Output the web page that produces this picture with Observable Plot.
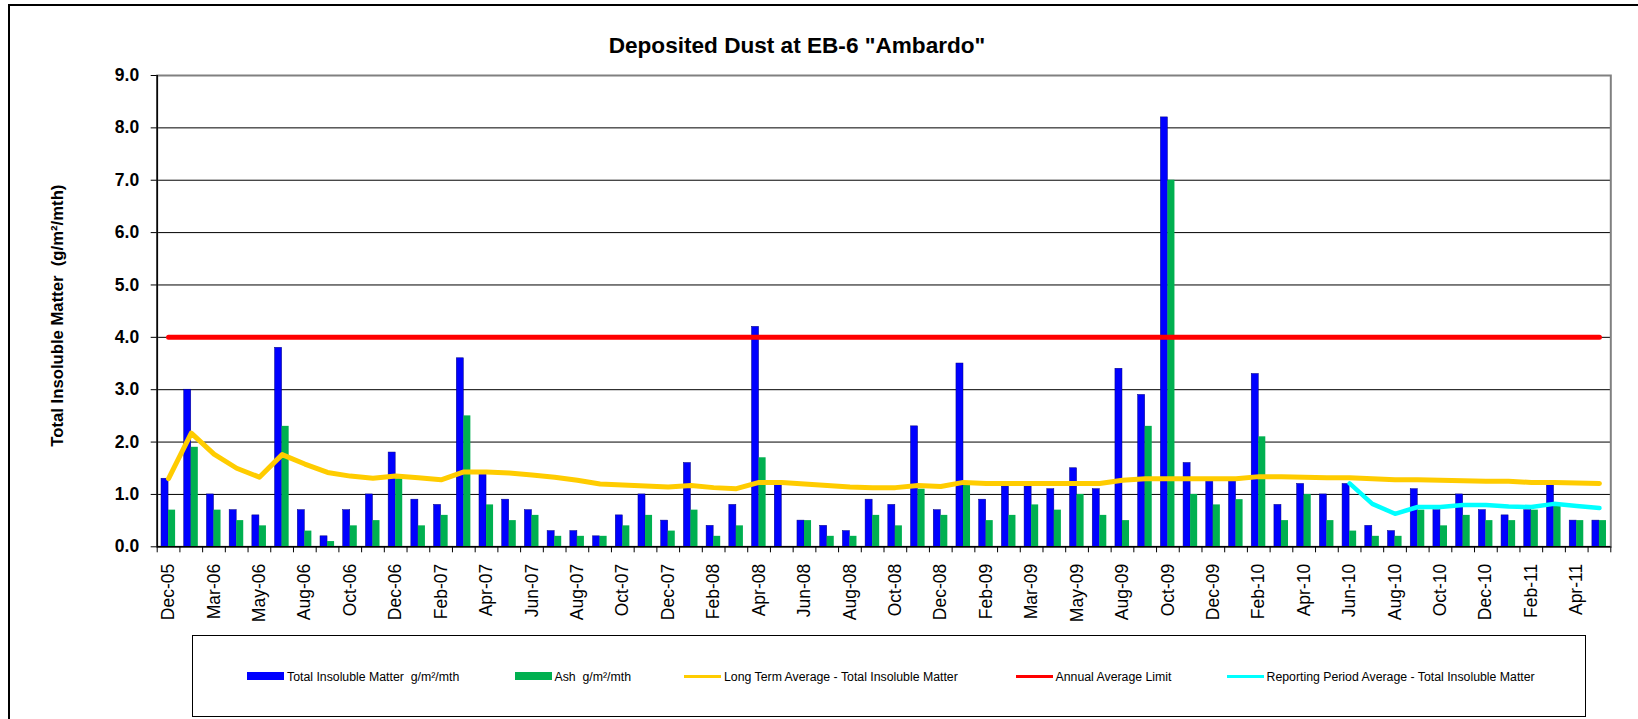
<!DOCTYPE html>
<html>
<head>
<meta charset="utf-8">
<script src="https://cdn.jsdelivr.net/npm/d3@7"></script>
<script src="https://cdn.jsdelivr.net/npm/@observablehq/plot@0.6"></script>
<style>
  html, body { margin: 0; padding: 0; background: #fff; }
  body { width: 1638px; height: 719px; overflow: hidden; font-family: "Liberation Sans", Arial, sans-serif; }
  #wrap { position: relative; width: 1638px; height: 719px; }
  #border { position: absolute; left: 8px; top: 4px; width: 1700px; height: 800px; border-left: 2px solid #000; border-top: 2px solid #000; }
  #title { position: absolute; left: 0; width: 1594px; top: 35px; text-align: center; font-weight: bold; font-size: 22.6px; line-height: 22.6px; color: #000; white-space: pre; }
  #chart { position: absolute; left: 0; top: 0; }
  #legend { position: absolute; left: 192px; top: 635px; width: 1394px; height: 82px; border: 1px solid #000; box-sizing: border-box; }
  .sw { position: absolute; }
  .lt { position: absolute; font-size: 12.3px; white-space: pre; color: #000; line-height: 14px; top: 33.5px; }
</style>
</head>
<body>
<div id="wrap">
  <div id="border"></div>
  <div id="title">Deposited Dust at EB-6 "Ambardo"</div>
  <div id="chart"></div>
  <div id="legend"></div>
</div>
<script>
// Categories (sampling months)
const months = ["Dec-05","Feb-06","Mar-06","Apr-06","May-06","Jul-06","Aug-06","Sep-06","Oct-06","Nov-06",
  "Dec-06","Jan-07","Feb-07","Mar-07","Apr-07","May-07","Jun-07","Jul-07","Aug-07","Sep-07",
  "Oct-07","Nov-07","Dec-07","Jan-08","Feb-08","Mar-08","Apr-08","May-08","Jun-08","Jul-08",
  "Aug-08","Sep-08","Oct-08","Nov-08","Dec-08","Jan-09","Feb-09","Feb-09","Mar-09","Apr-09",
  "May-09","Jul-09","Aug-09","Sep-09","Oct-09","Nov-09","Dec-09","Jan-10","Feb-10","Mar-10",
  "Apr-10","May-10","Jun-10","Jul-10","Aug-10","Sep-10","Oct-10","Nov-10","Dec-10","Jan-11",
  "Feb-11","Mar-11","Apr-11","May-11"];

// Total Insoluble Matter g/m²/mth
const totalInsoluble = [1.3,3.0,1.0,0.7,0.6,3.8,0.7,0.2,0.7,1.0,
  1.8,0.9,0.8,3.6,1.4,0.9,0.7,0.3,0.3,0.2,
  0.6,1.0,0.5,1.6,0.4,0.8,4.2,1.2,0.5,0.4,
  0.3,0.9,0.8,2.3,0.7,3.5,0.9,1.15,1.15,1.1,
  1.5,1.1,3.4,2.9,8.2,1.6,1.25,1.25,3.3,0.8,
  1.2,1.0,1.2,0.4,0.3,1.1,0.7,1.0,0.7,0.6,
  0.7,1.2,0.5,0.5];

// Ash g/m²/mth
const ash = [0.7,1.9,0.7,0.5,0.4,2.3,0.3,0.1,0.4,0.5,
  1.3,0.4,0.6,2.5,0.8,0.5,0.6,0.2,0.2,0.2,
  0.4,0.6,0.3,0.7,0.2,0.4,1.7,null,0.5,0.2,
  0.2,0.6,0.4,1.1,0.6,1.2,0.5,0.6,0.8,0.7,
  1.0,0.6,0.5,2.3,7.0,1.0,0.8,0.9,2.1,0.5,
  1.0,0.5,0.3,0.2,0.2,0.7,0.4,0.6,0.5,0.5,
  0.7,0.8,0.5,0.5];

// Long Term Average - Total Insoluble Matter
const longTermAvg = [1.30,2.17,1.77,1.50,1.33,1.76,1.58,1.42,1.35,1.31,
  1.35,1.32,1.28,1.43,1.43,1.41,1.37,1.33,1.27,1.20,
  1.18,1.16,1.14,1.17,1.13,1.11,1.23,1.23,1.20,1.17,
  1.14,1.13,1.13,1.17,1.15,1.23,1.21,1.21,1.21,1.21,
  1.21,1.21,1.27,1.30,1.30,1.30,1.30,1.30,1.34,1.34,
  1.33,1.32,1.32,1.30,1.28,1.28,1.27,1.26,1.25,1.25,
  1.23,1.23,1.22,1.21];

// Annual Average Limit
const annualLimit = 4.0;

// Reporting Period Average - Total Insoluble Matter (Jun-10 .. May-11)
const reportingStart = 52;
const reportingAvg = [1.21,0.82,0.63,0.76,0.76,0.80,0.80,0.77,0.76,0.82,0.78,0.74];

// Y tick values
const yTicks = [0,1,2,3,4,5,6,7,8,9];

const W = 1638, H = 640;
const mL = 156.7, mR = 27.7, mT = 75, mB = 93.7;
const idx = d3.range(months.length);
const bw = (W - mL - mR) / months.length;
const barW = bw * 0.31;
const font = "'Liberation Sans', Arial, sans-serif";

const rows = idx.map(i => ({i, tim: totalInsoluble[i], ash: ash[i], lta: longTermAvg[i], lim: annualLimit}));
const repRows = reportingAvg.map((v, k) => ({i: reportingStart + k, v}));

const chart = Plot.plot({
  width: W, height: H,
  marginTop: mT, marginBottom: mB, marginLeft: mL, marginRight: mR,
  x: {type: "band", domain: idx, padding: 0},
  y: {domain: [0, 9]},
  style: {fontFamily: font, background: "transparent", color: "#000"},
  marks: [
    Plot.ruleY(yTicks.slice(1, -1), {stroke: "#000", strokeWidth: 1}),
    Plot.frame({stroke: "#808080", strokeWidth: 2}),
    Plot.barY(rows, {x: "i", y: "tim", fill: "#0000FF", stroke: "#000080", strokeWidth: 0.5,
      insetLeft: bw / 2 - barW, insetRight: bw / 2}),
    Plot.barY(rows.filter(d => d.ash != null), {x: "i", y: "ash", fill: "#00B050",
      insetLeft: bw / 2, insetRight: bw / 2 - barW}),
    Plot.line(rows, {x: "i", y: "lta", stroke: "#FFCC00", strokeWidth: 5, strokeLinecap: "round", strokeLinejoin: "round"}),
    Plot.line(rows, {x: "i", y: "lim", stroke: "#FF0000", strokeWidth: 5, strokeLinecap: "round"}),
    Plot.line(repRows, {x: "i", y: "v", stroke: "#00FFFF", strokeWidth: 4.5, strokeLinecap: "round", strokeLinejoin: "round"}),
    Plot.ruleY([0], {stroke: "#000", strokeWidth: 1.5}),
    Plot.ruleX([0], {dx: -bw / 2, stroke: "#000", strokeWidth: 1.5}),
    Plot.axisY({ticks: yTicks, tickFormat: d3.format(".1f"), tickSize: 6, tickPadding: 12,
      fontSize: 17.5, fontWeight: "bold", label: null, stroke: "#000"}),
    Plot.text(["Total Insoluble Matter  (g/m²/mth)"], {frameAnchor: "left", rotate: -90, dx: -100, dy: 4.5,
      textAnchor: "middle", lineAnchor: "middle", fontSize: 16.7, fontWeight: "bold", fill: "#000"}),
    Plot.axisX({ticks: idx.filter(i => i % 2 === 0), tickFormat: i => months[i], tickSize: 0, tickPadding: 17,
      tickRotate: -90, fontSize: 17.5, label: null}),
    Plot.axisX({ticks: idx, tickSize: 6, text: null, dx: -bw / 2, label: null, stroke: "#000"}),
    Plot.axisX({ticks: [idx[idx.length - 1]], tickSize: 6, text: null, dx: bw / 2, label: null, stroke: "#000"})
  ]
});
document.getElementById("chart").appendChild(chart);

// Legend
const legendItems = [
  {label: "Total Insoluble Matter  g/m²/mth", color: "#0000FF", kind: "rect", x: 54},
  {label: "Ash  g/m²/mth", color: "#00B050", kind: "rect", x: 321.5},
  {label: "Long Term Average - Total Insoluble Matter", color: "#FFCC00", kind: "line", x: 491},
  {label: "Annual Average Limit", color: "#FF0000", kind: "line", x: 822.5},
  {label: "Reporting Period Average - Total Insoluble Matter", color: "#00FFFF", kind: "line", x: 1033.5}
];
const lg = document.getElementById("legend");
for (const it of legendItems) {
  const sw = document.createElement("div");
  sw.className = "sw";
  sw.style.left = it.x + "px";
  sw.style.width = "37px";
  sw.style.background = it.color;
  if (it.kind === "rect") { sw.style.top = "36px"; sw.style.height = "8px"; }
  else { sw.style.top = "39px"; sw.style.height = "2.5px"; }
  lg.appendChild(sw);
  const t = document.createElement("div");
  t.className = "lt";
  t.style.left = (it.x + 40) + "px";
  t.textContent = it.label;
  lg.appendChild(t);
}
</script>
</body>
</html>
